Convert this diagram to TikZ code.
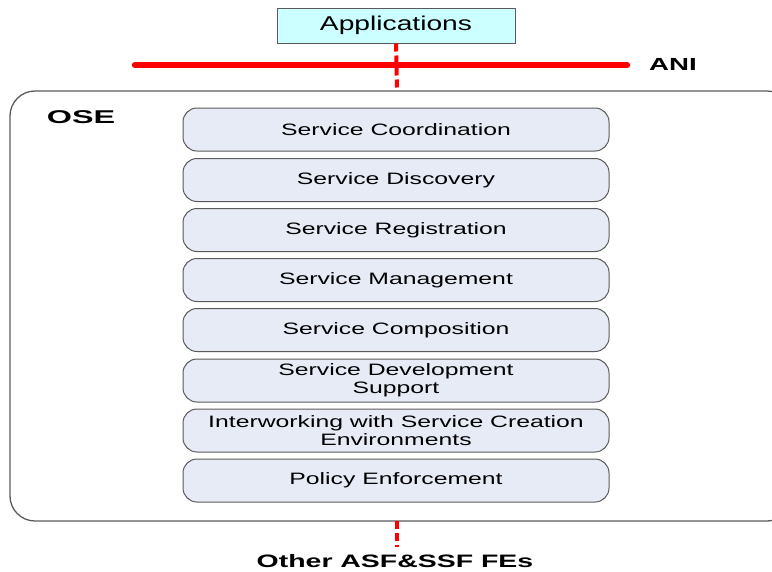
\documentclass[tikz,border=0pt]{standalone}
\usepackage{fontspec}
\setmainfont{Liberation Sans}
\newfontfamily\wideA[FakeStretch=1.41]{Liberation Sans}
\newfontfamily\wideB[FakeStretch=1.5]{Liberation Sans}
\newfontfamily\wideC[FakeStretch=1.58]{Liberation Sans}
\newfontfamily\wideD[FakeStretch=1.75]{Liberation Sans}
\definecolor{boxfill}{RGB}{230,235,246}
\definecolor{appfill}{RGB}{204,255,255}
\definecolor{edge}{RGB}{90,90,90}
\definecolor{anired}{RGB}{255,0,0}
\begin{document}
\begin{tikzpicture}[x=1pt,y=-1pt,
  svcbox/.style={draw=edge,line width=1pt,fill=boxfill,rounded corners=14pt,
    minimum width=426pt,minimum height=43pt,inner sep=0pt,align=center,
    font=\wideB\fontsize{16.5}{18}\selectfont},
  redline/.style={draw=anired,line width=6.5pt,line cap=round},
  reddash/.style={draw=anired,line width=4pt,dash pattern=on 8pt off 4pt}]
\useasboundingbox (0,0) rectangle (772,571);
\begin{scope}
\clip (0,0) rectangle (772,571);
\draw[edge,line width=1.3pt,rounded corners=25pt] (10,91) rectangle (792,521);
\end{scope}
\coordinate (osetop) at (397,91);
\coordinate (osebot) at (397,521);
\node[draw=edge,line width=1pt,fill=appfill,minimum width=238pt,minimum height=35pt,inner sep=0pt,
  font=\wideA\fontsize{20}{22}\selectfont] (app) at (396,25.5) {Applications};
\coordinate (anil) at (135,65);
\coordinate (anir) at (627,65);
\draw[redline] (anil) -- (anir);
\node[font=\wideC\bfseries\fontsize{17.5}{19}\selectfont] (ani) at (673,64) {ANI};
\node[font=\wideD\bfseries\fontsize{18.5}{20}\selectfont] (ose) at (81,117) {OSE};
\node[svcbox] (s1) at (396,129.5) {Service Coordination};
\node[svcbox] (s2) at (396,180) {Service Discovery};
\node[svcbox] (s3) at (396,230) {Service Registration};
\node[svcbox] (s4) at (396,280) {Service Management};
\node[svcbox] (s5) at (396,330) {Service Composition};
\node[svcbox] (s6) at (396,380.5) {Service Development\\Support};
\node[svcbox] (s7) at (396,430.5) {Interworking with Service Creation\\Environments};
\node[svcbox] (s8) at (396,480.5) {Policy Enforcement};
\node[font=\wideC\bfseries\fontsize{18}{20}\selectfont] (other) at (395,561) {Other ASF\&SSF FEs};
\draw[reddash] (app.south) -- (osetop);
\draw[reddash] (osebot) -- (397,547);
\end{tikzpicture}
\end{document}
